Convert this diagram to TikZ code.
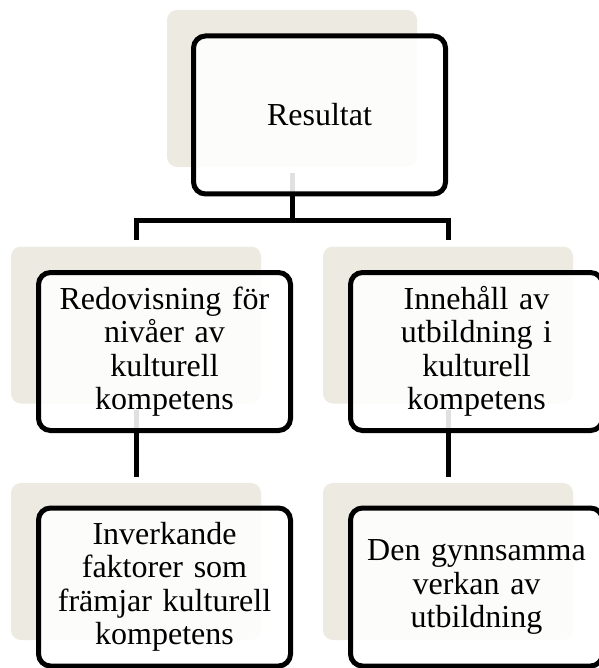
\documentclass[tikz,border=0pt]{standalone}
\usepackage{fontspec}
\setmainfont{Liberation Serif}
\usepackage{tikz}
\usetikzlibrary{calc}
\definecolor{card_beige}{HTML}{ECEAE1}

\begin{document}
\begin{tikzpicture}[x=1pt,y=-1pt,
    back/.style={fill=card_beige, rounded corners=10pt, minimum width=250pt, minimum height=157pt, inner sep=0pt},
    card/.style={draw=black, line width=5pt, fill=white, fill opacity=0.88, text opacity=1, rounded corners=12pt, minimum width=252pt, minimum height=158pt, inner sep=3pt, text width=244pt, align=center, font=\fontsize{32}{33.5}\selectfont},
    conn/.style={line width=5pt}]
    \useasboundingbox (0,0) rectangle (598,668);
    % beige cards behind
    \node[back] (resback) at (292,88.5) {};
    \node[back] (redback) at (136,325) {};
    \node[back] (innback) at (448,325) {};
    \node[back] (infback) at (136,561.5) {};
    \node[back] (denback) at (448,561.5) {};
    % connectors
    \draw[conn] ([yshift=-6pt]resback.south) -- ([yshift=-53pt]resback.south) coordinate (fork);
    \draw[conn] ([yshift=6pt]redback.north) |- (fork) -| ([yshift=6pt]innback.north);
    \draw[conn] ([yshift=-6pt]redback.south) -- ([yshift=6pt]infback.north);
    \draw[conn] ([yshift=-6pt]innback.south) -- ([yshift=6pt]denback.north);
    % cards
    \node[card] (res) at (319.5,115) {Resultat};
    \node[card] (red) at (164.5,351.5) {Redovisning för\\nivåer av\\kulturell\\kompetens};
    \node[card] (inn) at (476.5,351.5) {Innehåll av\\utbildning i\\kulturell\\kompetens};
    \node[card] (inf) at (164.5,587) {Inverkande\\faktorer som\\främjar kulturell\\kompetens};
    \node[card] (den) at (476.5,587) {Den gynnsamma\\verkan av\\utbildning};
\end{tikzpicture}
\end{document}
